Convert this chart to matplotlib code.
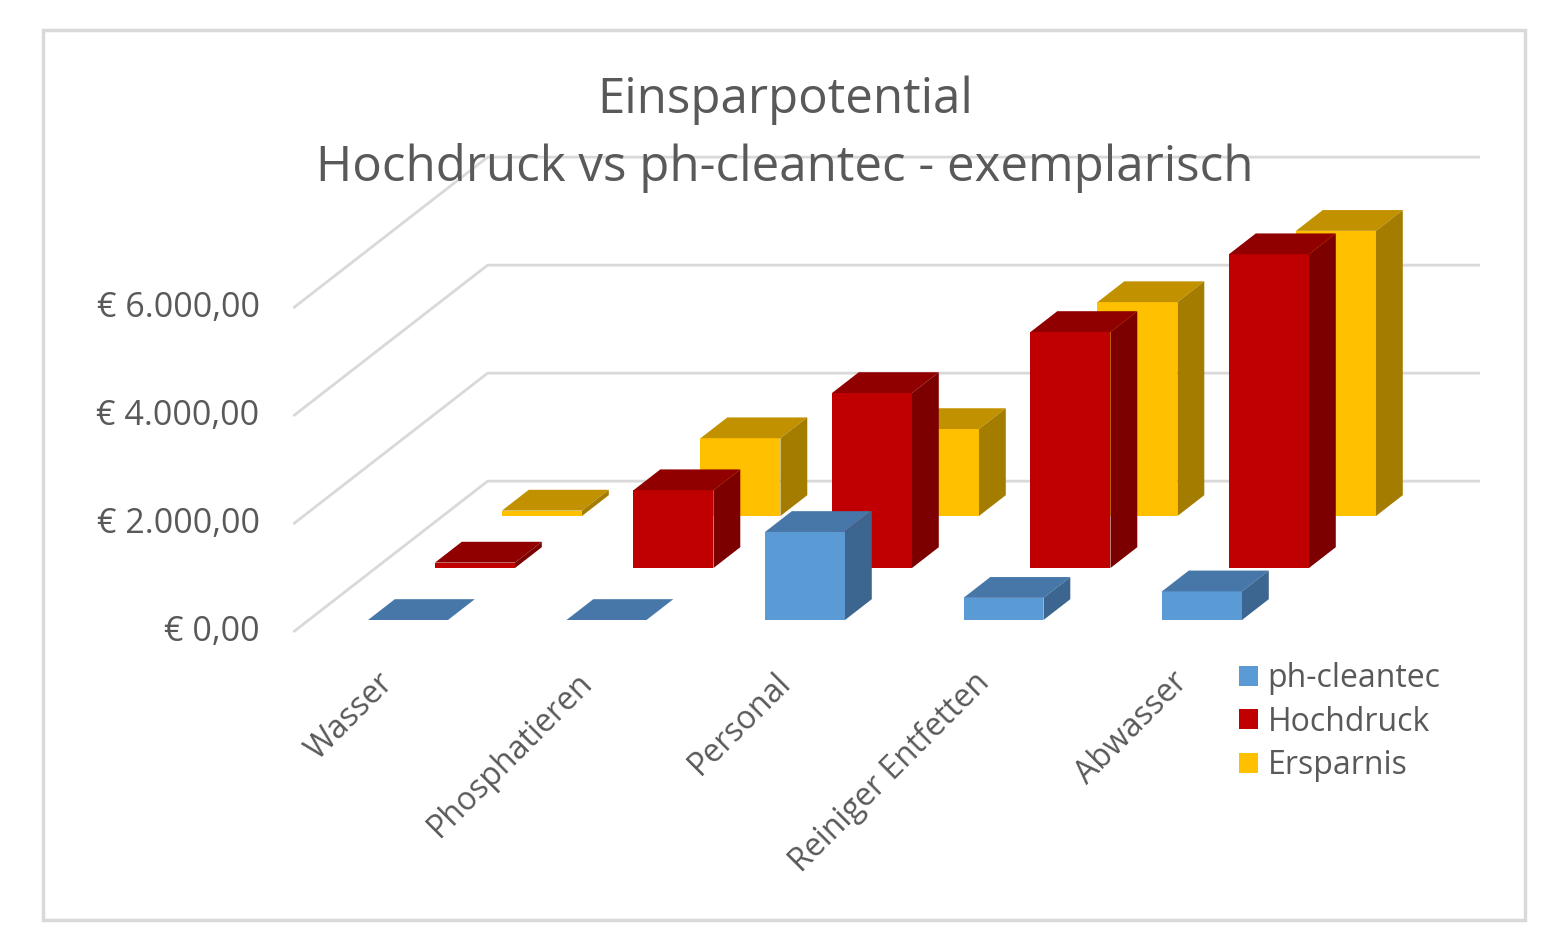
import numpy as np
import matplotlib.pyplot as plt
from matplotlib.patches import Polygon, Rectangle

# ---- data ----
categories = ["Wasser", "Phosphatieren", "Personal", "Reiniger Entfetten", "Abwasser"]
ph_cleantec = [0, 0, 1630, 410, 530]
hochdruck = [100, 1440, 3240, 4370, 5810]
ersparnis = [100, 1440, 1610, 3960, 5280]
series_names = ["ph-cleantec", "Hochdruck", "Ersparnis"]
y_ticks = [0, 2000, 4000, 6000]

# front / top / side colours per series
colors = {
    "ph-cleantec": ("#5B9BD5", "#4677A8", "#3C6690"),
    "Hochdruck": ("#C00000", "#900000", "#7C0000"),
    "Ersparnis": ("#FFC000", "#C29100", "#A47C00"),
}

plt.rcParams['font.family'] = ['Open Sans', 'DejaVu Sans']
text_col = '#595959'
grid_col = '#D9D9D9'

# oblique 3d: one row of depth moves right by DX (categories) and up by DY (values)
DX = 0.3375
DY = 963
bar_w = 0.403
bar_d = 0.4
z_front, z_back = -0.23, 2.67
x_lo, x_hi = -0.5, len(categories) - 0.5

fig = plt.figure(figsize=(15.54, 9.5), dpi=100)
ax = fig.add_axes([0, 0, 1, 1])
ax.set_xlim(-2.0554, 5.7733)
ax.set_ylim(-6111, 11481)
ax.axis('off')

# outer frame
fig.patches.append(Rectangle((43 / 1554, 30 / 950), 1482 / 1554, 890 / 950,
                             transform=fig.transFigure, fill=False,
                             ec=grid_col, lw=2.5))

# gridlines on side wall and back wall
for v in y_ticks:
    xs = [x_lo + z_front * DX, x_lo + z_back * DX, x_hi + z_back * DX]
    ys = [v + z_front * DY, v + z_back * DY, v + z_back * DY]
    ax.plot(xs, ys, color=grid_col, lw=2, zorder=1, solid_capstyle='butt')
    s = f"{v:,.2f}".replace(",", "X").replace(".", ",").replace("X", ".")
    ax.text(x_lo + z_front * DX - 0.17, v + z_front * DY, "€ " + s,
            ha='right', va='center', fontsize=24.5, color=text_col)

# bars, back row first
rows = [(2, "Ersparnis", ersparnis), (1, "Hochdruck", hochdruck), (0, "ph-cleantec", ph_cleantec)]
for depth, name, vals in rows:
    front, top, side = colors[name]
    base = depth * DY
    zo = 5 - depth
    for i, v in enumerate(vals):
        xl = i - bar_w / 2 + depth * DX
        xr = xl + bar_w
        ax.bar(xl, v, bottom=base, width=bar_w, align='edge', color=front,
               lw=0, zorder=zo)
        h = base + v
        ax.add_patch(Polygon([(xl, h), (xr, h), (xr + bar_d * DX, h + bar_d * DY),
                              (xl + bar_d * DX, h + bar_d * DY)],
                             closed=True, fc=top, lw=0, zorder=zo))
        ax.add_patch(Polygon([(xr, base), (xr + bar_d * DX, base + bar_d * DY),
                              (xr + bar_d * DX, h + bar_d * DY), (xr, h)],
                             closed=True, fc=side, lw=0, zorder=zo))

# category labels
for i, c in enumerate(categories):
    ax.text(i + z_front * DX + 0.04, z_front * DY - 630, c, rotation=45,
            ha='right', va='top', fontsize=23, color=text_col)

# title
fig.text(785 / 1554, 1 - 100 / 950, "Einsparpotential", ha='center', va='center',
         fontsize=35.5, color=text_col)
fig.text(785 / 1554, 1 - 168 / 950, "Hochdruck vs ph-cleantec - exemplarisch",
         ha='center', va='center', fontsize=35.5, color=text_col)

# legend
handles = [Rectangle((0, 0), 1, 1, fc=colors[n][0], lw=0) for n in series_names]
ax.legend(handles, series_names, loc='upper left',
          bbox_to_anchor=(1239 / 1554, 1 - 662 / 950), bbox_transform=fig.transFigure,
          frameon=False, fontsize=23, labelcolor=text_col, handlelength=0.6,
          handleheight=0.6, handletextpad=0.3, labelspacing=0.33,
          borderaxespad=0, borderpad=0)

fig.savefig("out.png", dpi=100, facecolor='white')
